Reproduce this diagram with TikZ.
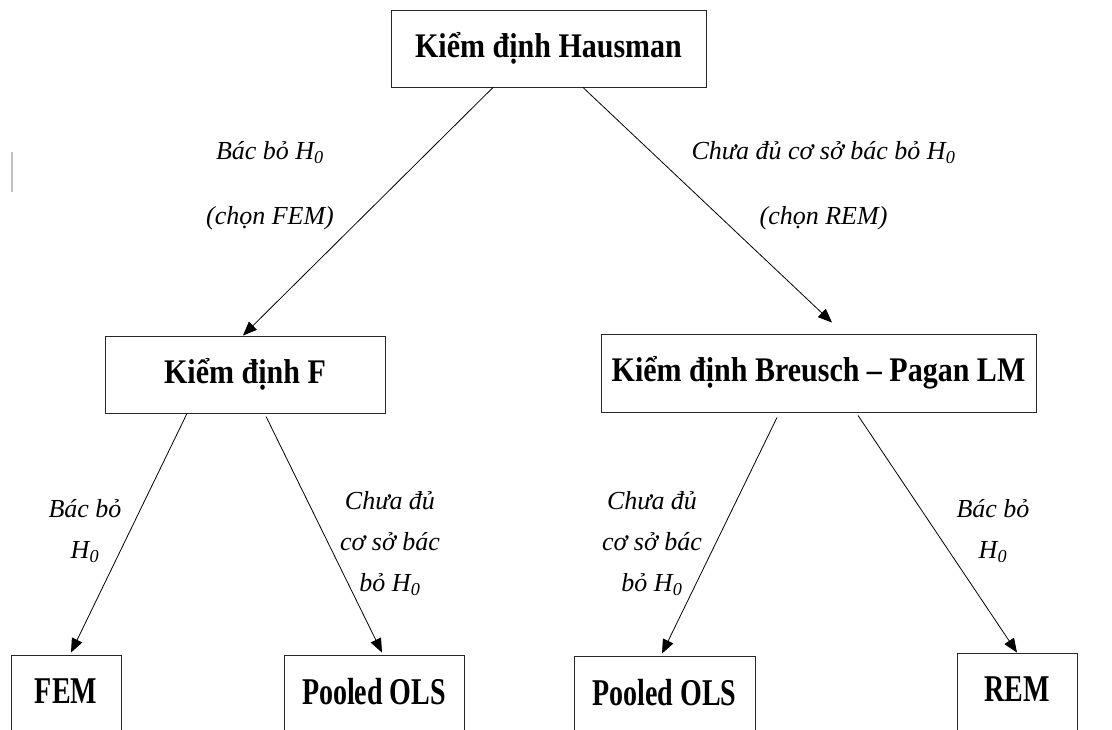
\documentclass[tikz,border=0pt]{standalone}
\usepackage{fontspec}
\usepackage{graphicx}
\setmainfont{Liberation Serif}
\usetikzlibrary{arrows.meta,calc}
\newcommand\vstr[2]{\scalebox{1}[#1]{#2}}
\newcommand\leaftext[1]{\raisebox{7.5pt}{\scalebox{1}[1.35]{#1}}}
\begin{document}
\begin{tikzpicture}[x=0.75pt,y=-0.75pt,
  box/.style={draw=black!85,line width=0.7pt,inner sep=0pt,font=\bfseries\fontsize{22.5}{27}\selectfont},
  leaf/.style={draw=black!85,line width=0.7pt,inner sep=0pt,minimum height=61.5pt,font=\bfseries\fontsize{21}{25}\selectfont},
  lbltop/.style={font=\itshape\fontsize{19.5}{48.75}\selectfont,align=center,inner sep=0pt},
  lbl/.style={font=\itshape\fontsize{19.5}{31}\selectfont,align=center,inner sep=0pt},
  conn/.style={line width=0.6pt,-{Triangle[length=10.5pt,width=8.5pt]}}]
\useasboundingbox[fill=white] (0,0) rectangle (1112,729);
% stray mark
\draw[black!25,line width=0.8pt] (12,152) -- (12,192);
% boxes
\node[box,minimum width=236.25pt,minimum height=57.75pt] (hausman) at (548.5,48.5) {\vstr{1.15}{Kiểm định Hausman}};
\node[box,minimum width=210pt,minimum height=57.75pt] (ftest) at (245,374.5) {\vstr{1.15}{Kiểm định F}};
\node[box,minimum width=326.25pt,minimum height=58.5pt] (bp) at (818.5,373) {\vstr{1.15}{Kiểm định Breusch – Pagan LM}};
\node[leaf,minimum width=82.5pt] (fem) at (66,696) {\leaftext{FEM}};
\node[leaf,minimum width=135pt] (pols1) at (374,696) {\leaftext{Pooled OLS}};
\node[leaf,minimum width=135.75pt] (pols2) at (664.5,697) {\leaftext{Pooled OLS}};
\node[leaf,minimum width=90pt] (rem) at (1017,694) {\leaftext{REM}};
% connectors
\draw[conn] ($(hausman.south)+(-55.5,0)$) -- ($(ftest.north)+(-2,0)$);
\draw[conn] ($(hausman.south)+(34.5,0)$) -- ($(bp.north)+(13.5,-11)$);
\draw[conn] ($(ftest.south)+(-58,0)$) -- ($(fem.north)+(5,-2)$);
\draw[conn] ($(ftest.south)+(21,3)$) -- ($(pols1.north)+(8,-2)$);
\draw[conn] ($(bp.south)+(-41.5,5)$) -- ($(pols2.north)+(-2.5,-2)$);
\draw[conn] ($(bp.south)+(39.5,3)$) -- ($(rem.north)+(0,0)$);
% labels
\node[lbltop] (l1) at (270,185.5) {Bác bỏ H\textsubscript{0}\\(chọn FEM)};
\node[lbltop] (l2) at (823.5,185.5) {Chưa đủ cơ sở bác bỏ H\textsubscript{0}\\(chọn REM)};
\node[lbl] (l3) at (85,531) {Bác bỏ\\H\textsubscript{0}};
\node[lbl] (l4) at (390,543.5) {Chưa đủ\\cơ sở bác\\bỏ H\textsubscript{0}};
\node[lbl] (l5) at (652,543.5) {Chưa đủ\\cơ sở bác\\bỏ H\textsubscript{0}};
\node[lbl] (l6) at (993,531) {Bác bỏ\\H\textsubscript{0}};
\end{tikzpicture}
\end{document}
